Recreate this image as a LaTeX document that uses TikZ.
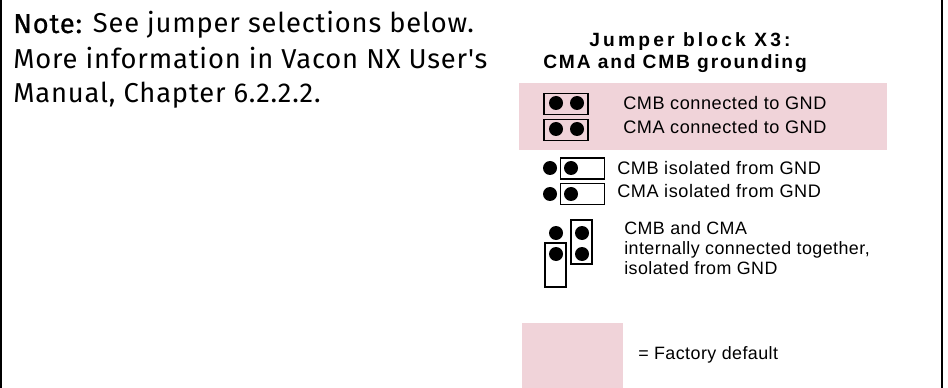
\documentclass[tikz,border=0pt]{standalone}
\usepackage{fontspec}
\setmainfont{Liberation Sans}
\newfontfamily\notefont[LetterSpace=3]{Fira Sans}
\newfontfamily\notebold[LetterSpace=3,FakeBold=0.6]{Fira Sans}
\newfontfamily\labelfont[LetterSpace=3]{Liberation Sans}
\newfontfamily\smallfont[LetterSpace=2.5]{Liberation Sans}
\newfontfamily\headfont[LetterSpace=9.5]{Liberation Sans Bold}
\newfontfamily\headwide[LetterSpace=16.5]{Liberation Sans Bold}
\usetikzlibrary{positioning}
\definecolor{factorypink}{HTML}{F0D3D9}
\tikzstyle{pinkarea} = [rectangle, inner sep=0pt, outer sep=0pt, fill=factorypink]
\tikzstyle{pin} = [circle, inner sep=0pt, minimum size=10.5pt, fill=black]
\tikzstyle{jumperH} = [rectangle, inner sep=0pt, minimum width=33pt, minimum height=15.5pt, draw=black, line width=1.1pt]
\tikzstyle{jumperV} = [rectangle, inner sep=0pt, minimum width=15.5pt, minimum height=33pt, draw=black, line width=1.1pt]
\tikzstyle{notetext} = [anchor=base west, inner sep=0pt, font=\notefont\fontsize{20.5pt}{20.5pt}\selectfont]
\tikzstyle{heading} = [anchor=base, inner sep=0pt, font=\headfont\fontsize{14.4pt}{14.4pt}\selectfont]
\tikzstyle{label} = [anchor=base west, inner sep=0pt, font=\labelfont\fontsize{13.6pt}{13.6pt}\selectfont]
\tikzstyle{labelsmall} = [anchor=base west, inner sep=0pt, font=\smallfont\fontsize{13.4pt}{13.4pt}\selectfont]
\begin{document}
\begin{tikzpicture}[x=0.75pt, y=-0.75pt]
\useasboundingbox (0,0) rectangle (948,388);

\coordinate (leftTop) at (1,0);
\coordinate (leftBottom) at (1,388);
\coordinate (rightTop) at (941.5,0);
\coordinate (rightBottom) at (941.5,388);
\draw[line width=1.5pt] (leftTop) -- (leftBottom);
\draw[line width=1.5pt] (rightTop) -- (rightBottom);

\node (defaultArea) [pinkarea, minimum width=276pt, minimum height=50.25pt] at (703,116.5) {};
\node (legendArea) [pinkarea, minimum width=75.75pt, minimum height=48.75pt] at (572.5,355.5) {};

\node (noteA) [notetext] at (13,33) {{\notebold Note:} See jumper selections below.};
\node (noteB) [notetext] at (13,69) {More information in Vacon NX User's};
\node (noteC) [notetext] at (13,103) {Manual, Chapter 6.2.2.2.};

\node (titleA) [heading, font=\headwide\fontsize{14.4pt}{14.4pt}\selectfont] at (690,47) {Jumper block X3:};
\node (titleB) [heading] at (675,69) {CMA and CMB grounding};

\node (boxB) [jumperH] at (566,104) {};
\node (boxA) [jumperH] at (566,130) {};
\node (pinB1) [pin] at (556,103) {};
\node (pinB2) [pin] at (577,103) {};
\node (pinA1) [pin] at (556,129) {};
\node (pinA2) [pin] at (577,129) {};
\node (textB) [label] at (623,110) {CMB connected to GND};
\node (textA) [label] at (623,134) {CMA connected to GND};

\node (isoBoxB) [jumperH] at (582.5,168.5) {};
\node (isoBoxA) [jumperH] at (582.5,194) {};
\node (isoPinB1) [pin] at (550,168) {};
\node (isoPinB2) [pin] at (571,168) {};
\node (isoPinA1) [pin] at (550,194) {};
\node (isoPinA2) [pin] at (571,194) {};
\node (isoTextB) [label] at (617,175) {CMB isolated from GND};
\node (isoTextA) [label] at (617,198) {CMA isolated from GND};

\node (boxRight) [jumperV] at (581.5,242) {};
\node (boxLeft) [jumperV] at (555.5,265) {};
\node (pinL1) [pin] at (556,233) {};
\node (pinL2) [pin] at (556,254) {};
\node (pinR1) [pin] at (582,233) {};
\node (pinR2) [pin] at (582,254) {};
\node (togetherA) [labelsmall] at (624,234) {CMB and CMA};
\node (togetherB) [labelsmall] at (624,254) {internally connected together,};
\node (togetherC) [labelsmall] at (624,274) {isolated from GND};

\node (legendText) [labelsmall] at (638,359) {= Factory default};

\end{tikzpicture}
\end{document}
